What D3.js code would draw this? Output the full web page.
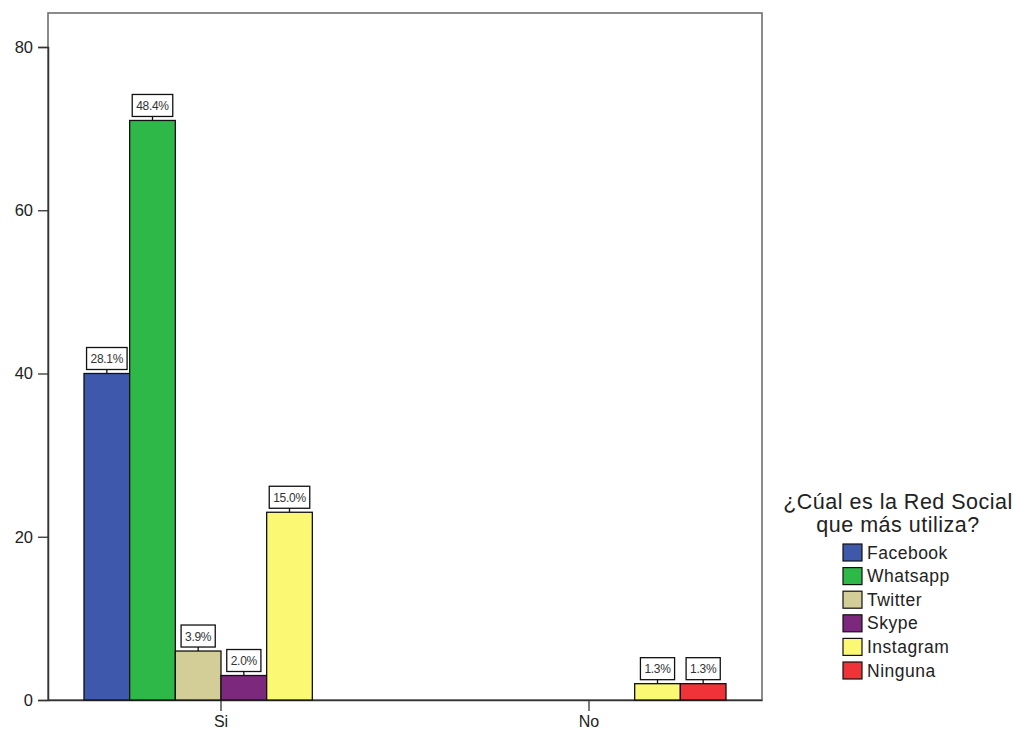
<!DOCTYPE html>
<html><head><meta charset="utf-8">
<script src="https://cdn.jsdelivr.net/npm/d3@7"></script>
<style>body{margin:0;background:#fff}svg{display:block;font-family:"Liberation Sans",Arial,sans-serif}</style>
</head><body><svg id="c" width="1014" height="730"></svg>
<script>
const categories = ["Si", "No"];
const series = ["Facebook", "Whatsapp", "Twitter", "Skype", "Instagram", "Ninguna"];
const countsSi = [40, 71, 6, 3, 23, 0];
const countsNo = [0, 0, 0, 0, 2, 2];
const pctSi = ["28.1%", "48.4%", "3.9%", "2.0%", "15.0%", null];
const pctNo = [null, null, null, null, "1.3%", "1.3%"];
const yTicks = [0, 20, 40, 60, 80];
const colors = ["#3E58AC", "#2EB848", "#D3CE97", "#7C287D", "#FBF873", "#EF3338"];
const legendTitle = ["¿Cúal es la Red Social", "que más utiliza?"];

const counts = [countsSi, countsNo];
const pcts = [pctSi, pctNo];

const svg = d3.select("#c");
const L = 48, R = 762, T = 13, B = 700;

const x0 = d3.scaleBand().domain(categories).range([L, R]).paddingInner(0.2554).paddingOuter(0.0978);
const x1 = d3.scaleBand().domain(series).range([0, x0.bandwidth()]).padding(0);
const y = d3.scaleLinear().domain([0, 80]).range([B, 47]);
const color = d3.scaleOrdinal().domain(series).range(colors);

// frame
svg.append("rect").attr("x", L).attr("y", T).attr("width", R - L).attr("height", B - T)
  .attr("fill", "none").attr("stroke", "#6e6e6e").attr("stroke-width", 1.6);

// y axis
const ya = svg.append("g").attr("transform", `translate(${L},0)`)
  .call(d3.axisLeft(y).tickValues(yTicks).tickSize(10).tickPadding(5));
ya.select(".domain").attr("stroke", "#333").attr("stroke-width", 1.5);
ya.selectAll(".tick line").attr("stroke", "#333").attr("stroke-width", 1.3);
ya.selectAll(".tick text").attr("font-size", 16.5).attr("fill", "#222").attr("font-family", "Liberation Sans, Arial, sans-serif");

// x axis
const xa = svg.append("g").attr("transform", `translate(0,${B})`)
  .call(d3.axisBottom(x0).tickSize(11).tickPadding(5).tickSizeOuter(0));
xa.select(".domain").attr("stroke", "#333").attr("stroke-width", 1.5);
xa.selectAll(".tick line").attr("stroke", "#333").attr("stroke-width", 1.3);
xa.selectAll(".tick text").attr("font-size", 16).attr("fill", "#222").attr("font-family", "Liberation Sans, Arial, sans-serif");

// bars
const data = [];
categories.forEach((c, ci) => series.forEach((s, si) => data.push({c, s, v: counts[ci][si], p: pcts[ci][si]})));

const g = svg.append("g");
g.selectAll("rect.bar").data(data.filter(d => d.v > 0)).join("rect").attr("class", "bar")
  .attr("x", d => x0(d.c) + x1(d.s)).attr("width", x1.bandwidth())
  .attr("y", d => y(d.v)).attr("height", d => y(0) - y(d.v))
  .attr("fill", d => color(d.s)).attr("stroke", "#111").attr("stroke-width", 1.3);

// labels
const lab = svg.append("g");
data.filter(d => d.p).forEach(d => {
  const cx = x0(d.c) + x1(d.s) + x1.bandwidth() / 2;
  const top = y(d.v);
  const gap = 4, h = 22;
  const t = lab.append("text").text(d.p).attr("font-size", 12).attr("text-anchor", "middle")
    .attr("letter-spacing", -0.3)
    .attr("fill", "#333").attr("x", cx).attr("y", top - gap - h / 2 + 4.5);
  const w = Math.min(t.node().getComputedTextLength() + 8, x1.bandwidth());
  lab.insert("rect", "text").attr("x", cx - w / 2).attr("y", top - gap - h).attr("width", w).attr("height", h)
    .attr("fill", "#fff").attr("stroke", "#111").attr("stroke-width", 1.3);
  lab.append("line").attr("x1", cx).attr("x2", cx).attr("y1", top - gap).attr("y2", top)
    .attr("stroke", "#111").attr("stroke-width", 1.3);
});

// legend
const lg = svg.append("g");
legendTitle.forEach((t, i) => lg.append("text").text(t).attr("x", 898).attr("y", 509 + i * 23)
  .attr("text-anchor", "middle").attr("font-size", 21.5).attr("letter-spacing", 0.5).attr("fill", "#222"));
series.forEach((s, i) => {
  const yy = 544 + i * 23.6;
  lg.append("rect").attr("x", 843).attr("y", yy).attr("width", 19).attr("height", 17)
    .attr("fill", color(s)).attr("stroke", "#111").attr("stroke-width", 1.2);
  lg.append("text").text(s).attr("x", 867).attr("y", yy + 14.5).attr("font-size", 17.5)
    .attr("letter-spacing", 0.5).attr("fill", "#222");
});
</script></body></html>
